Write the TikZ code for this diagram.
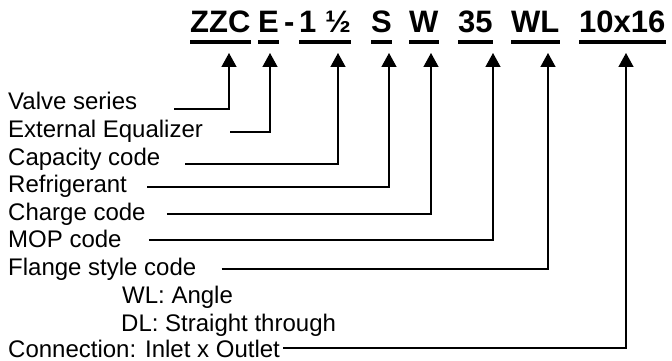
\documentclass[tikz,border=0pt]{standalone}
\usepackage{fontspec}
\setmainfont{Liberation Sans}
\usetikzlibrary{arrows.meta,positioning}

\begin{document}
\begin{tikzpicture}[
    x=1pt, y=-1pt,
    code/.style={inner sep=0pt, anchor=base west, font=\fontsize{31}{31}\selectfont\bfseries},
    label/.style={inner sep=0pt, anchor=base west, font=\fontsize{24}{26}\selectfont},
    uline/.style={line width=3.5pt},
    arr/.style={line width=1.4pt, -{Triangle[width=15pt,length=14pt]}}
]
\useasboundingbox (0,0) rectangle (672,361);

% Model code
\node[code] (zzc) at (190,33) {ZZC};
\node[code] (ee) at (258,33) {E};
\node[code] (dash) at (284,33) {-};
\node[code] (cap) at (299,33) {1 ½};
\node[code] (ss) at (371,33) {S};
\node[code] (ww) at (409,33) {W};
\node[code] (mop) at (458,33) {35};
\node[code] (wl) at (511,33) {WL};
\node[code] (conn) at (579,33) {10x16};

% Underlines
\foreach \n in {zzc,ee,cap,ss,ww,mop,wl,conn}
  \draw[uline] ([yshift=-9pt]\n.base west) -- ([yshift=-9pt]\n.base east);

% Arrow tips
\coordinate (tZZC) at (229,53);
\coordinate (tE) at (270,53);
\coordinate (tCap) at (338,53);
\coordinate (tS) at (389,53);
\coordinate (tW) at (431,53);
\coordinate (tMop) at (493,53);
\coordinate (tWL) at (548,53);
\coordinate (tConn) at (626,53);

% Labels
\node[label] (lValve) at (8,110) {Valve series};
\node[label] (lExt) at (8,137) {External Equalizer};
\node[label] (lCap) at (8,165) {Capacity code};
\node[label] (lRef) at (8,192) {Refrigerant};
\node[label] (lCharge) at (8,220) {Charge code};
\node[label] (lMop) at (8,247) {MOP code};
\node[label] (lFlange) at (8,275) {Flange style code};
\node[label] (lWL) at (122,303) {WL: Angle};
\node[label] (lDL) at (121,331) {DL: Straight through};
\node[label] (lConn) at (8,357) {Connection: Inlet x Outlet};

% Connectors
\draw[arr] (lValve.base east) ++(37,-1) -| (tZZC);
\draw[arr] (lExt.base east) ++(27,-5) -| (tE);
\draw[arr] (lCap.base east) ++(25,-1) -| (tCap);
\draw[arr] (lRef.base east) ++(20,-5) -| (tS);
\draw[arr] (lCharge.base east) ++(21,-6) -| (tW);
\draw[arr] (lMop.base east) ++(27,-7) -| (tMop);
\draw[arr] (lFlange.base east) ++(25,-6) -| (tWL);
\draw[arr] (lConn.base east) ++(3,-9) -| (tConn);

\end{tikzpicture}
\end{document}
